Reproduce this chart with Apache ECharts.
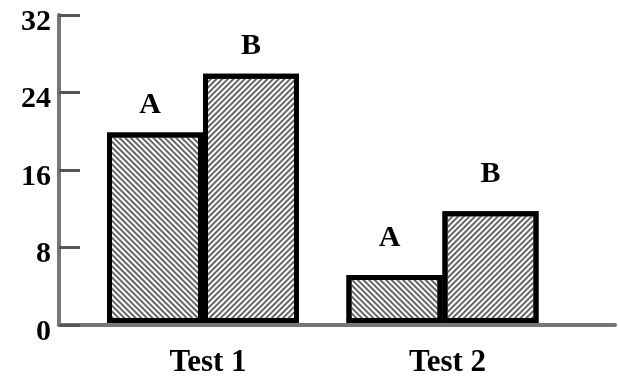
<!DOCTYPE html>
<html>
<head>
<meta charset="utf-8">
<script src="https://cdn.jsdelivr.net/npm/echarts@6/dist/echarts.min.js"></script>
<style>
  html, body { margin: 0; padding: 0; background: #fff; }
  #chart { width: 618px; height: 378px; }
</style>
</head>
<body>
<div id="chart"></div>
<script>
// 数据
const categories = ['Test 1', 'Test 2']
const seriesA = [19.8, 5.0]
const seriesB = [25.9, 11.6]
const yTicks = [0, 8, 16, 24, 32]

const font = 'Liberation Serif'
const myChart = echarts.init(document.getElementById('chart'))

// 标签离柱顶的距离（两组不一样）
const gapFor = i => (i === 0 ? 12 : 22)

function makeSeries (name, values, rotation, dx) {
  return {
    name: name,
    type: 'bar',
    xAxisIndex: 1,
    yAxisIndex: 1,
    barWidth: 96,
    barGap: '0%',
    z: 5,
    data: values.map((v, i) => ({ value: v, label: { distance: gapFor(i) } })),
    itemStyle: {
      color: '#fff',
      borderColor: '#000',
      borderWidth: 5,
      decal: {
        symbol: 'rect',
        symbolSize: 1,
        dashArrayX: [1, 0],
        dashArrayY: [1.5, 2],
        rotation: rotation,
        color: '#666'
      }
    },
    label: {
      show: true,
      position: 'top',
      offset: [dx, 0],
      formatter: name,
      color: '#000',
      fontFamily: font,
      fontWeight: 'bold',
      fontSize: 30
    }
  }
}

const option = {
  animation: false,
  grid: [
    { left: 59, right: 3, top: 15, bottom: 53 },
    // 柱子的坐标系，底部稍低一点让柱边框压住x轴线
    { left: 83.25, width: 479, top: 15, bottom: 51 }
  ],
  xAxis: [
    {
      gridIndex: 0,
      type: 'value',
      min: 0,
      max: 1,
      axisLine: { show: true, lineStyle: { color: '#777', width: 4 } },
      axisTick: { show: false },
      axisLabel: { show: false },
      splitLine: { show: false }
    },
    {
      gridIndex: 1,
      type: 'category',
      data: categories,
      axisLine: { show: false },
      axisTick: { show: false },
      axisLabel: {
        margin: 24,
        formatter: v => '{t|' + v + '}',
        rich: {
          t: {
            padding: [0, 0, 0, 10],
            color: '#000',
            fontFamily: font,
            fontWeight: 'bold',
            fontSize: 31
          }
        }
      }
    }
  ],
  yAxis: [
    {
      gridIndex: 0,
      type: 'value',
      min: yTicks[0],
      max: yTicks[yTicks.length - 1],
      interval: yTicks[1] - yTicks[0],
      axisLine: { show: true, lineStyle: { color: '#777', width: 4 } },
      axisTick: { show: true, inside: true, length: 21, lineStyle: { color: '#555', width: 3 } },
      axisLabel: {
        margin: 8,
        formatter: v => '{n|' + v + '}',
        rich: {
          n: {
            padding: [14, 0, 0, 0],
            color: '#000',
            fontFamily: font,
            fontWeight: 'bold',
            fontSize: 30
          }
        }
      },
      splitLine: { show: false }
    },
    {
      gridIndex: 1,
      type: 'value',
      min: yTicks[0],
      max: yTicks[yTicks.length - 1],
      show: false
    }
  ],
  series: [
    makeSeries('A', seriesA, Math.PI / 4, -5),
    makeSeries('B', seriesB, -Math.PI / 4, 0)
  ]
}

myChart.setOption(option)
window.addEventListener('resize', () => {
  myChart.resize()
})
</script>
</body>
</html>
